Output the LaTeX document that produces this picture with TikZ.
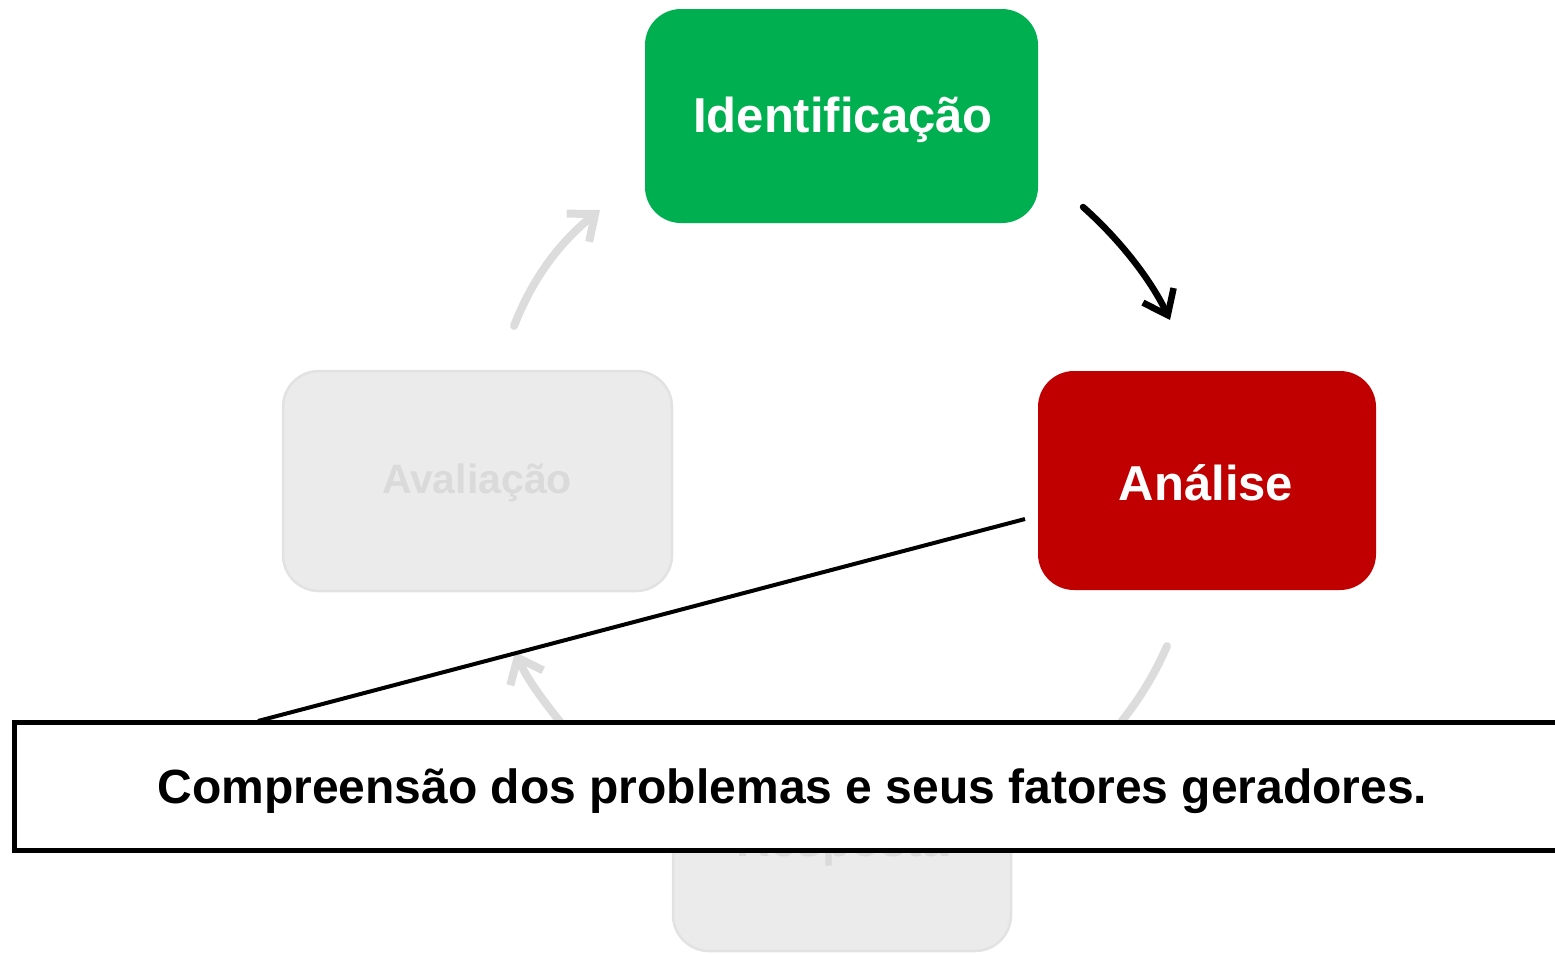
\documentclass[tikz,border=0pt]{standalone}
\usepackage{fontspec}
\setmainfont{Liberation Sans}
\usetikzlibrary{arrows.meta}
\definecolor{idgreen}{HTML}{00B050}
\definecolor{anred}{HTML}{C00000}
\definecolor{fadefill}{HTML}{EBEBEB}
\definecolor{fadeline}{HTML}{E2E2E2}
\definecolor{fadetext}{HTML}{DADADA}
\definecolor{fadearrow}{HTML}{DCDCDC}
\tikzset{
  stagebox/.style={rounded corners=36pt, inner sep=0pt, align=center, font=\bfseries\fontsize{49}{56}\selectfont},
  activebox/.style={stagebox, text=white},
  fadebox/.style={stagebox, fill=fadefill, draw=fadeline, line width=2.5pt, text=fadetext, font=\bfseries\fontsize{41}{48}\selectfont},
  fadetxt/.style={text=fadetext, inner sep=0pt, font=\bfseries\fontsize{41}{48}\selectfont},
  fadearr/.style={draw=fadearrow, line width=8pt, line cap=round, -{Straight Barb[length=22pt,width=36pt,line width=8pt]}},
  fadeline/.style={draw=fadearrow, line width=8pt, line cap=round},
  blackarr/.style={draw=black, line width=6.5pt, line cap=round, -{Straight Barb[length=22pt,width=34pt,line width=6.5pt]}},
  calloutbox/.style={draw=black, fill=white, line width=5pt, inner sep=0pt, font=\bfseries\fontsize{48}{56}\selectfont},
}
\begin{document}
\begin{tikzpicture}[x=1pt,y=-1pt]
\useasboundingbox (0,0) rectangle (1555,954);
\clip (0,0) rectangle (1555,954);
% stage boxes
\node[activebox, fill=idgreen, minimum width=393pt, minimum height=214pt] (ident) at (841.5,116) {};
\node[activebox] (identtxt) at (843,120) {Identificação};
\node[activebox, fill=anred, minimum width=338pt, minimum height=219pt] (anal) at (1207,480.5) {};
\node[activebox] (analtxt) at (1206,483) {Análise};
\node[fadebox, minimum width=389pt, minimum height=220pt] (aval) at (477.5,481) {};
\node[fadetxt] (avaltxt) at (477,483) {Avaliação};
\node[fadebox, minimum width=338pt, minimum height=218pt] (resp) at (842,842) {};
\node[fadetxt, font=\bfseries\fontsize{47}{54}\selectfont] (resptxt) at (842.5,845) {Resposta};
% arrow end points
\coordinate (a1s) at (514,326);
\coordinate (a1e) at (600,210);
\coordinate (a2s) at (1083,207);
\coordinate (a2e) at (1170,320);
\coordinate (a3s) at (1167,646);
\coordinate (a3e) at (1108,738);
\coordinate (a4s) at (575,740);
\coordinate (a4e) at (515,652);
% faint arrows
\draw[fadearr] (a1s) .. controls (535,272) and (565,238) .. (a1e);
\draw[fadeline] (a3s) .. controls (1150,685) and (1130,712) .. (a3e);
\draw[fadearr] (a4s) .. controls (552,712) and (530,685) .. (a4e);
% active arrow
\draw[blackarr] (a2s) .. controls (1118,238) and (1150,278) .. (a2e);
% callout
\node[calloutbox, minimum width=1557pt, minimum height=128pt] (callout) at (792.5,786) {};
\node[inner sep=0pt, font=\bfseries\fontsize{48}{56}\selectfont] (callouttxt) at (792.5,791) {Compreensão dos problemas e seus fatores geradores.};
\coordinate (ptr) at (1025,519);
\coordinate (ptrfoot) at (258,721);
\draw[line width=4pt] (ptr) -- (ptrfoot);
\end{tikzpicture}
\end{document}
